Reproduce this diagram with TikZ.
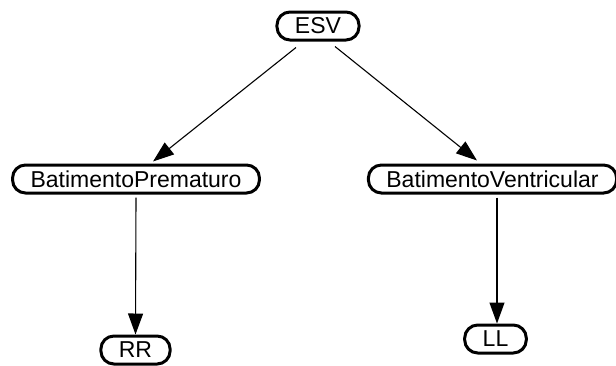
\documentclass[tikz,border=0pt]{standalone}
\usepackage{fontspec}
\setmainfont{Liberation Sans}
\usetikzlibrary{arrows.meta}
\begin{document}
\begin{tikzpicture}[x=1pt,y=-1pt,
  var/.style={draw, line width=3pt, rounded corners=13pt,
    minimum height=28pt, inner xsep=18pt, inner ysep=0pt,
    font=\fontsize{23}{24}\selectfont},
  edge/.style={line width=1.1pt, -{Triangle[length=21pt,width=15pt]}}]
\useasboundingbox (0,0) rectangle (616,365);
\node[var] (ESV) at (318,26) {ESV};
\node[var] (BP) at (136,179) {BatimentoPrematuro};
\node[var] (BV) at (492.5,179) {BatimentoVentricular};
\node[var] (RR) at (135.5,350) {RR};
\node[var] (LL) at (495.5,339) {LL};
\draw[edge] ([xshift=-22pt,yshift=-6pt]ESV.south) -- ([xshift=17pt,yshift=2pt]BP.north);
\draw[edge] ([xshift=17pt,yshift=-5pt]ESV.south) -- ([xshift=-15.5pt,yshift=3pt]BV.north);
\draw[edge] ([yshift=-3pt]BP.south) -- (RR.north);
\draw[edge] ([xshift=4.5pt,yshift=-3pt]BV.south) -- ([xshift=1.5pt]LL.north);
\end{tikzpicture}
\end{document}
